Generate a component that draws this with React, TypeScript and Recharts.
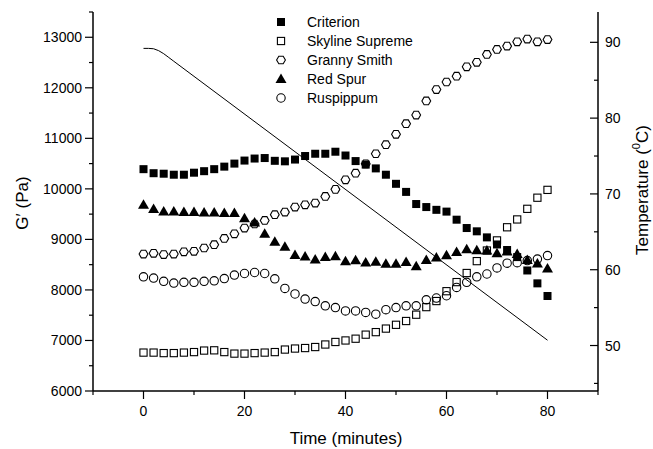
import { ScatterChart, Scatter, XAxis, YAxis, Legend } from "recharts";

const FONT = '"Liberation Sans", Arial, sans-serif';

// time in minutes, one reading every 2 min
const times = [
  0, 2, 4, 6, 8, 10, 12, 14, 16, 18, 20, 22, 24, 26, 28, 30, 32, 34, 36, 38, 40,
  42, 44, 46, 48, 50, 52, 54, 56, 58, 60, 62, 64, 66, 68, 70, 72, 74, 76, 78, 80,
];

// G' (Pa)
const criterion = [
  10390, 10310, 10300, 10280, 10280, 10320, 10350, 10390, 10440, 10500, 10560,
  10600, 10610, 10555, 10545, 10580, 10650, 10695, 10695, 10735, 10660, 10550,
  10480, 10405, 10280, 10100, 9940, 9700, 9640, 9585, 9550, 9390, 9225, 9160,
  9040, 8900, 8790, 8650, 8385, 8130, 7880,
];
const skylineSupreme = [
  6760, 6760, 6750, 6750, 6760, 6770, 6800, 6805, 6770, 6740, 6740, 6750, 6760,
  6770, 6820, 6840, 6850, 6870, 6920, 6970, 7000, 7035, 7115, 7165, 7235, 7310,
  7385, 7510, 7660, 7780, 7975, 8155, 8335, 8570, 8780, 8980, 9240, 9395, 9605,
  9825, 9980,
];
const grannySmith = [
  8710, 8725, 8700, 8710, 8755, 8765, 8830, 8895, 9020, 9110, 9225, 9305, 9375,
  9490, 9540, 9640, 9685, 9720, 9850, 9990, 10180, 10310, 10495, 10695, 10875,
  11080, 11290, 11460, 11740, 11965, 12115, 12230, 12415, 12505, 12660, 12760,
  12825, 12910, 12965, 12910, 12955,
];
const redSpur = [
  9685, 9600, 9550, 9550, 9540, 9540, 9530, 9530, 9520, 9520, 9420, 9335, 9110,
  8955, 8855, 8690, 8660, 8600, 8650, 8665, 8570, 8585, 8545, 8560, 8520, 8520,
  8555, 8470, 8590, 8640, 8685, 8750, 8805, 8785, 8780, 8725, 8760, 8710, 8590,
  8525, 8425,
];
const ruspippum = [
  8260, 8235, 8170, 8135, 8150, 8150, 8170, 8180, 8225, 8295, 8325, 8345, 8325,
  8220, 8030, 7920, 7820, 7770, 7685, 7650, 7585, 7585, 7555, 7520, 7610, 7650,
  7685, 7685, 7805, 7840, 7885, 8050, 8150, 8260, 8315, 8435, 8530, 8540, 8580,
  8610, 8680,
];

// temperature programme (°C)
const tempTimes = [0, 1, 2, 3, 4, 5, 6, 80];
const tempValues = [89.2, 89.2, 89.15, 88.9, 88.5, 88.0, 87.5, 50.7];

const xTicks = [-10, 0, 10, 20, 30, 40, 50, 60, 70, 80, 90];
const gTicks = [
  6000, 6500, 7000, 7500, 8000, 8500, 9000, 9500, 10000, 10500, 11000, 11500,
  12000, 12500, 13000, 13500,
];
const tempTicks = [45, 50, 55, 60, 65, 70, 75, 80, 85, 90];

const toPoints = (vals: number[]) => times.map((t, i) => ({ t, v: vals[i] }));
const tempPoints = tempTimes.map((t, i) => ({ t, v: tempValues[i] }));

type P = { cx?: number; cy?: number };

const FilledSquare = ({ cx = 0, cy = 0 }: P) => (
  <rect x={cx - 4} y={cy - 4} width={8} height={8} fill="#000" />
);
const OpenSquare = ({ cx = 0, cy = 0 }: P) => (
  <rect x={cx - 3.6} y={cy - 3.6} width={7.2} height={7.2} fill="none" stroke="#000" strokeWidth={1.1} />
);
const Hexagon = ({ cx = 0, cy = 0 }: P) => {
  const r = 4.4;
  const pts = [0, 60, 120, 180, 240, 300]
    .map((a) => {
      const rad = (a * Math.PI) / 180;
      return `${cx + r * Math.cos(rad)},${cy + r * Math.sin(rad)}`;
    })
    .join(" ");
  return <polygon points={pts} fill="none" stroke="#000" strokeWidth={1.1} />;
};
const Triangle = ({ cx = 0, cy = 0 }: P) => (
  <polygon points={`${cx},${cy - 5.5} ${cx + 5.5},${cy + 4} ${cx - 5.5},${cy + 4}`} fill="#000" />
);
const Circle = ({ cx = 0, cy = 0 }: P) => (
  <circle cx={cx} cy={cy} r={4.2} fill="none" stroke="#000" strokeWidth={1.1} />
);

const series = [
  { name: "Criterion", values: criterion, Shape: FilledSquare },
  { name: "Skyline Supreme", values: skylineSupreme, Shape: OpenSquare },
  { name: "Granny Smith", values: grannySmith, Shape: Hexagon },
  { name: "Red Spur", values: redSpur, Shape: Triangle },
  { name: "Ruspippum", values: ruspippum, Shape: Circle },
];

const BottomTick = (props: any) => {
  const { x, y, payload } = props;
  const major = payload.value % 20 === 0;
  return (
    <g>
      <line x1={x} y1={y} x2={x} y2={y + (major ? 8 : 4)} stroke="#000" strokeWidth={1.2} />
      {major && (
        <text x={x} y={y + 20} textAnchor="middle" dominantBaseline="central" fontSize={14} fontFamily={FONT} fill="#000">
          {payload.value}
        </text>
      )}
    </g>
  );
};

const TopTick = (props: any) => {
  const { x, y, payload } = props;
  const major = payload.value % 20 === 0;
  return <line x1={x} y1={y} x2={x} y2={y + (major ? 7 : 4)} stroke="#000" strokeWidth={1.2} />;
};

const LeftTick = (props: any) => {
  const { x, y, payload } = props;
  const major = payload.value % 1000 === 0;
  return (
    <g>
      <line x1={x} y1={y} x2={x - (major ? 8 : 4)} y2={y} stroke="#000" strokeWidth={1.2} />
      {major && (
        <text x={x - 11} y={y} textAnchor="end" dominantBaseline="central" fontSize={14} fontFamily={FONT} fill="#000">
          {payload.value}
        </text>
      )}
    </g>
  );
};

const RightTick = (props: any) => {
  const { x, y, payload } = props;
  const major = payload.value % 10 === 0;
  return (
    <g>
      <line x1={x} y1={y} x2={x - (major ? 8 : 4)} y2={y} stroke="#000" strokeWidth={1.2} />
      {major && (
        <text x={x + 7} y={y} textAnchor="start" dominantBaseline="central" fontSize={14} fontFamily={FONT} fill="#000">
          {payload.value}
        </text>
      )}
    </g>
  );
};

const LegendBox = () => (
  <svg width={200} height={100}>
    {series.map((s, i) => {
      const cy = 10 + i * 19;
      const Shape = s.Shape;
      return (
        <g key={s.name}>
          <Shape cx={11} cy={cy} />
          <text x={37} y={cy} dominantBaseline="central" fontSize={14} fontFamily={FONT} fill="#000">
            {s.name}
          </text>
        </g>
      );
    })}
  </svg>
);

const axisLine = { stroke: "#000", strokeWidth: 1.5 };

export default function App() {
  return (
    <div style={{ position: "absolute", left: 0, top: 0, background: "#fff" }}>
      <ScatterChart width={653} height={449} margin={{ top: 12, right: 0, bottom: 0, left: 0 }}>
        <XAxis
          xAxisId="top"
          orientation="top"
          type="number"
          dataKey="t"
          domain={[-10, 90]}
          ticks={xTicks}
          interval={0}
          height={0}
          tickSize={0}
          tickMargin={0}
          tickLine={false}
          tick={<TopTick />}
          axisLine={axisLine}
          allowDataOverflow
        />
        <XAxis
          xAxisId="bottom"
          type="number"
          dataKey="t"
          domain={[-10, 90]}
          ticks={xTicks}
          interval={0}
          height={58}
          tickSize={0}
          tickMargin={0}
          tickLine={false}
          tick={<BottomTick />}
          axisLine={axisLine}
          allowDataOverflow
          label={{
            content: () => (
              <text x={346} y={438} textAnchor="middle" dominantBaseline="central" fontSize={17} fontFamily={FONT} fill="#000">
                Time (minutes)
              </text>
            ),
          }}
        />
        <YAxis
          yAxisId="g"
          type="number"
          dataKey="v"
          domain={[6000, 13500]}
          ticks={gTicks}
          interval={0}
          width={93}
          tickSize={0}
          tickMargin={0}
          tickLine={false}
          tick={<LeftTick />}
          axisLine={axisLine}
          allowDataOverflow
          label={{
            content: () => (
              <text x={22} y={203} transform="rotate(-90 22 203)" textAnchor="middle" dominantBaseline="central" fontSize={17} fontFamily={FONT} fill="#000">
                G′ (Pa)
              </text>
            ),
          }}
        />
        <YAxis
          yAxisId="temp"
          orientation="right"
          type="number"
          dataKey="v"
          domain={[44, 94]}
          ticks={tempTicks}
          interval={0}
          width={55}
          tickSize={0}
          tickMargin={0}
          tickLine={false}
          tick={<RightTick />}
          axisLine={axisLine}
          allowDataOverflow
          label={{
            content: () => (
              <text x={642} y={190} transform="rotate(-90 642 190)" textAnchor="middle" dominantBaseline="central" fontSize={17} fontFamily={FONT} fill="#000">
                Temperature (<tspan baselineShift="super" fontSize={11}>0</tspan>C)
              </text>
            ),
          }}
        />
        <Scatter
          name="Temperature"
          data={tempPoints}
          xAxisId="bottom"
          yAxisId="temp"
          line={{ stroke: "#000", strokeWidth: 1 }}
          shape={() => <g />}
          legendType="none"
          isAnimationActive={false}
        />
        {series.map((s) => (
          <Scatter
            key={s.name}
            name={s.name}
            data={toPoints(s.values)}
            xAxisId="bottom"
            yAxisId="g"
            shape={<s.Shape />}
            isAnimationActive={false}
          />
        ))}
        <Legend
          layout="vertical"
          align="center"
          verticalAlign="middle"
          content={<LegendBox />}
          wrapperStyle={{ left: 270, top: 12, width: 200, height: 100 }}
        />
      </ScatterChart>
    </div>
  );
}
